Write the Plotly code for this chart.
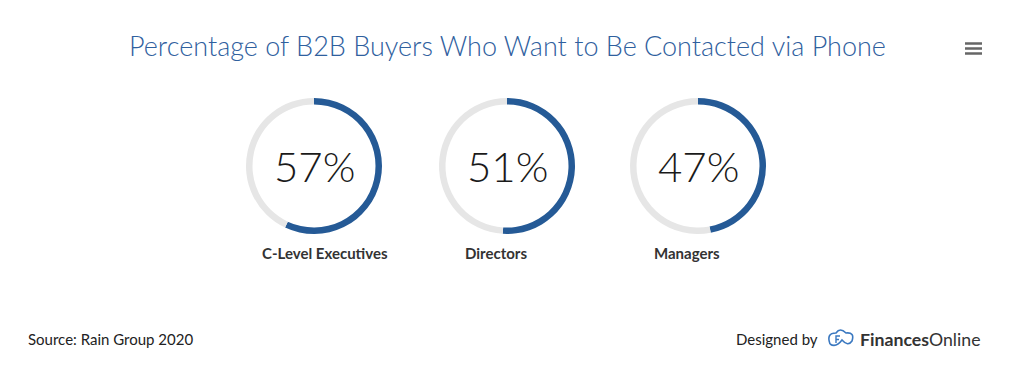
import plotly.graph_objects as go

# ---- data ----
categories = ["C-Level Executives", "Directors", "Managers"]
percent_values = [57, 51, 47]
title_text = "Percentage of B2B Buyers Who Want to Be Contacted via Phone"
source_text = "Source: Rain Group 2020"

W, H = 1024, 378
BLUE = "#255a96"
GRAY = "#e6e6e6"

centers_x = [314, 507, 698]
label_x = [324.5, 495.5, 686.5]
center_y = 166
radius = 68
thickness = 6.5

fig = go.Figure()
for i, (cat, val) in enumerate(zip(categories, percent_values)):
    cx = centers_x[i]
    fig.add_trace(go.Pie(
        values=[val, 100 - val],
        labels=[cat, "Other"],
        sort=False,
        direction="clockwise",
        rotation=0,
        hole=(radius - thickness) / radius,
        marker=dict(colors=[BLUE, GRAY], line=dict(width=0)),
        textinfo="none",
        hoverinfo="label+value",
        showlegend=False,
        domain=dict(x=[(cx - radius) / W, (cx + radius) / W],
                    y=[(H - center_y - radius) / H, (H - center_y + radius) / H]),
    ))
    fig.add_annotation(x=cx / W, y=1 - 166 / H, xref="paper", yref="paper",
                       text=f"{val}%", showarrow=False, xanchor="center", yanchor="middle",
                       font=dict(family="Lato", size=42, color="#1a1a1a", weight=300))
    fig.add_annotation(x=label_x[i] / W, y=1 - 253 / H, xref="paper", yref="paper",
                       text=cat, showarrow=False, xanchor="center", yanchor="middle",
                       font=dict(family="Lato", size=15, color="#333333", weight="bold"))

# title
fig.add_annotation(x=507 / W, y=1 - 45 / H, xref="paper", yref="paper",
                   text=title_text, showarrow=False, xanchor="center", yanchor="middle",
                   font=dict(family="Lato", size=27, color="#2f609e", weight=300))

# footer
fig.add_annotation(x=26 / W, y=1 - 339 / H, xref="paper", yref="paper",
                   text=source_text, showarrow=False, xanchor="left", yanchor="middle",
                   font=dict(family="Lato", size=15, color="#222222"))
fig.add_annotation(x=820 / W, y=1 - 339 / H, xref="paper", yref="paper",
                   text="Designed by", showarrow=False, xanchor="right", yanchor="middle",
                   font=dict(family="Lato", size=15, color="#222222"))
fig.add_annotation(x=858 / W, y=1 - 339 / H, xref="paper", yref="paper",
                   text="<b>Finances</b>Online", showarrow=False, xanchor="left", yanchor="middle",
                   font=dict(family="Lato", size=17.7, color="#333333"))

shapes = []
# cloud logo (decorative)
shapes.append(dict(type="path", xref="paper", yref="paper",
                   path=" ".join([
                       f"M {830/W} {1-344/H}",
                       f"Q {826/W} {1-333/H} {836/W} {1-333/H}",
                       f"Q {840/W} {1-327/H} {846/W} {1-333/H}",
                       f"Q {855/W} {1-332/H} {852/W} {1-341/H}",
                       f"Q {848/W} {1-347/H} {842/W} {1-340/H}",
                       f"Q {836/W} {1-348/H} {830/W} {1-344/H}",
                   ]),
                   line=dict(color="#3a78c0", width=1.6)))
shapes.append(dict(type="path", xref="paper", yref="paper",
                   path=f"M {836/W} {1-343/H} L {836/W} {1-336/H} L {840/W} {1-336/H} M {836/W} {1-339.5/H} L {839/W} {1-339.5/H}",
                   line=dict(color="#3a78c0", width=1.4)))
# hamburger menu icon
for yy in [43.5, 48.5, 53.5]:
    shapes.append(dict(type="line", xref="paper", yref="paper",
                       x0=965 / W, x1=982 / W, y0=1 - yy / H, y1=1 - yy / H,
                       line=dict(color="#666666", width=2.5)))

fig.update_layout(
    width=W, height=H, autosize=False,
    margin=dict(l=0, r=0, t=0, b=0),
    paper_bgcolor="white", plot_bgcolor="white",
    shapes=shapes,
)

fig.write_html("out.html", config={"displayModeBar": False},
               post_script="document.body.style.margin='0';")
